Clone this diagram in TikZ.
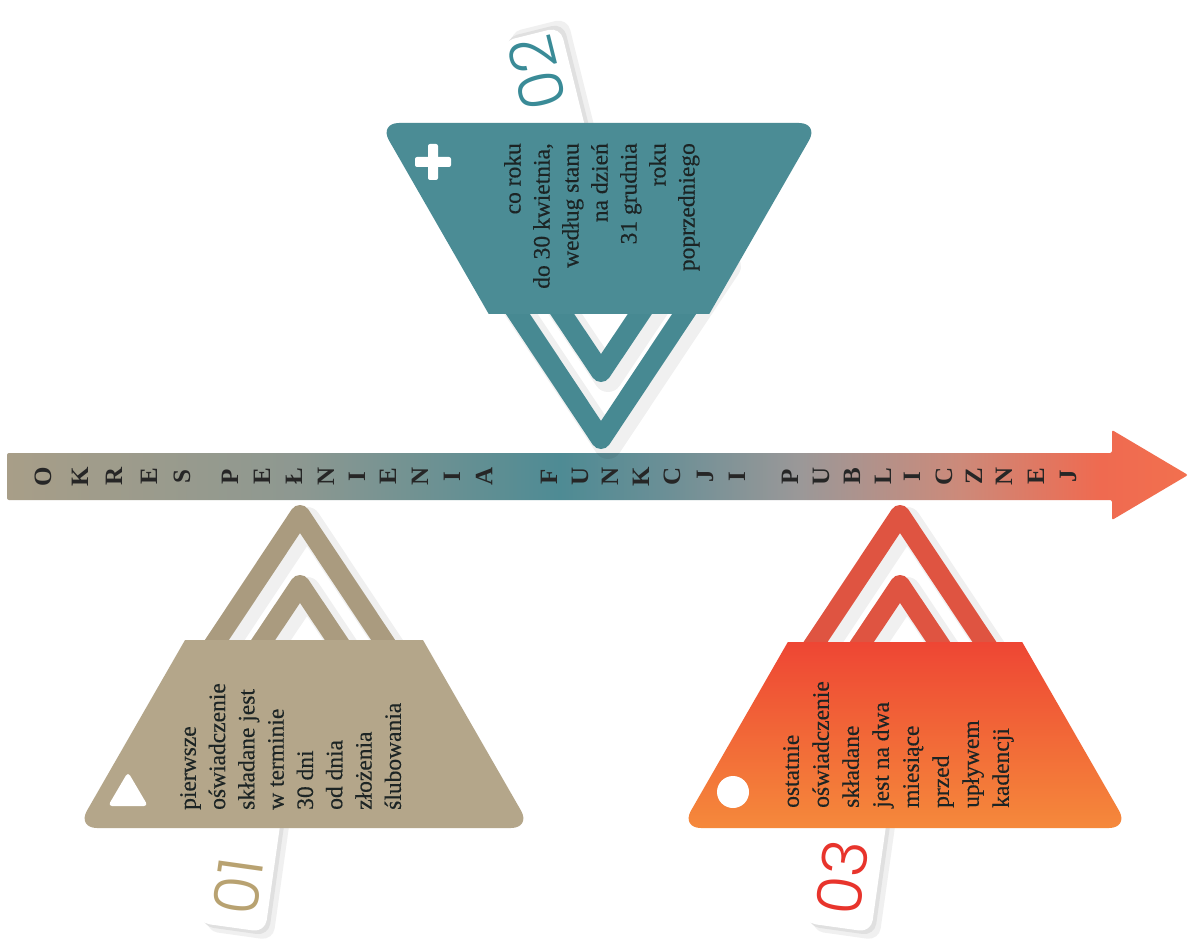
\documentclass[tikz,border=0pt]{standalone}
\usepackage{fontspec}
\setmainfont{Liberation Serif}
\IfFontExistsTF{Poppins Light}{\newfontfamily\numfont[Numbers=Proportional]{Poppins Light}}{\newfontfamily\numfont[Numbers=Proportional]{Poppins}}
\newfontfamily\cardfont[FakeBold=0.35]{Liberation Serif}
\definecolor{tanC}{HTML}{B4A68A}
\definecolor{tanD}{HTML}{AA9B7F}
\definecolor{tealC}{HTML}{4B8C95}
\definecolor{tealD}{HTML}{478992}
\definecolor{redT}{HTML}{EE4634}
\definecolor{redB}{HTML}{F5893B}
\definecolor{redD}{HTML}{DF5441}
\definecolor{txt}{HTML}{1C2424}
\definecolor{letterC}{HTML}{262626}
\definecolor{num1}{HTML}{B8A271}
\definecolor{num2}{HTML}{3A8B97}
\definecolor{num3}{HTML}{E8342C}
\definecolor{bA}{HTML}{A89E88}
\definecolor{bB}{HTML}{8D9891}
\definecolor{bC}{HTML}{4E8B94}
\definecolor{bD}{HTML}{6A8F96}
\definecolor{bE}{HTML}{9B9898}
\definecolor{bF}{HTML}{CC8A7A}
\definecolor{bG}{HTML}{EF6A50}
\definecolor{bH}{HTML}{F2704F}
\pgfdeclarehorizontalshading{barshade}{100bp}{color(0bp)=(bA); color(25bp)=(bA); color(37.4bp)=(bB); color(48.4bp)=(bC); color(52.7bp)=(bD); color(58.6bp)=(bE); color(65.3bp)=(bF); color(71.3bp)=(bG); color(75bp)=(bH); color(100bp)=(bH)}
\begin{document}
\begin{tikzpicture}[x=1pt,y=-1pt,
  cardtxt/.style={text=txt, inner sep=0pt},
  barletter/.style={text=letterC, inner sep=0pt, rotate=90, font=\bfseries\fontsize{25}{25}\selectfont},
  numtxt/.style={inner sep=0pt, font=\numfont\fontsize{62}{62}\selectfont},
  chev/.style={line width=20pt, line join=round, line cap=round},
  chevshadow/.style={line join=round, line cap=round, draw=black, opacity=0.06},
  tabshadowA/.style={fill=black!6, rounded corners=12pt},
  tabshadowB/.style={fill=black!12, rounded corners=12pt},
  tabpaper/.style={fill=white, rounded corners=12pt},
  icon/.style={fill=white}]
\fill[white] (0,0) rectangle (1191,944);
\useasboundingbox (0,0) rectangle (1191,944);

% timeline arrow
\shade[shading=barshade, rounded corners=2pt] (7,453) -- (1112,453) -- (1112,430) -- (1188,475) -- (1112,520) -- (1112,500) -- (7,500) -- cycle;
\foreach \ch/\xx [count=\i] in {O/43,K/80,R/114,E/149,S/182,P/230,E/262,Ł/294,N/326,I/357,E/388,N/420,I/452,A/484,F/549,U/580,N/610,K/641,C/672,J/705,I/737,P/790,U/821,B/852,L/883,I/912,C/944,Z/974,N/1004,E/1036,J/1068}
  \node[barletter] (L\i) at (\xx,476.5) {\ch};

% tabs
\begin{scope}[shift={(240,866)}, rotate=-8]
  \fill[tabshadowA] (-25,-103) rectangle (43,69);
  \fill[tabshadowB] (-30,-107) rectangle (38,65);
  \fill[tabpaper] (-34,-110) rectangle (34,62);
\end{scope}
\node[numtxt, text=num1, rotate=82] (n1) at (238,886) {01};

\begin{scope}[shift={(846,866)}, rotate=-8]
  \fill[tabshadowA] (-25,-103) rectangle (43,69);
  \fill[tabshadowB] (-30,-107) rectangle (38,65);
  \fill[tabpaper] (-34,-110) rectangle (34,62);
\end{scope}
\node[numtxt, text=num3, rotate=82] (n3) at (842,877) {03};

\begin{scope}[shift={(550,110)}, rotate=14]
  \fill[tabshadowA] (-21,-85) rectangle (39,113);
  \fill[tabshadowB] (-26,-81) rectangle (34,117);
  \fill[tabpaper] (-30,-78) rectangle (30,120);
\end{scope}
\node[numtxt, text=num2, rotate=104] (n2) at (537,73) {02};

% chevrons 01
\begin{scope}[shift={(7,6)}]
  \draw[chevshadow, line width=28pt] (177,700) -- (300,515) -- (423,700);
  \draw[chevshadow, line width=28pt] (223,700) -- (300,585) -- (377,700);
\end{scope}
\draw[chev, draw=tanD] (177,700) -- (300,515) -- (423,700);
\draw[chev, draw=tanD] (223,700) -- (300,585) -- (377,700);
% chevrons 03
\begin{scope}[shift={(7,6)}]
  \draw[chevshadow, line width=28pt] (777,700) -- (900,515) -- (1023,700);
  \draw[chevshadow, line width=28pt] (823,700) -- (900,585) -- (977,700);
\end{scope}
\draw[chev, draw=redD] (777,700) -- (900,515) -- (1023,700);
\draw[chev, draw=redD] (823,700) -- (900,585) -- (977,700);
% chevrons 02
\begin{scope}[shift={(7,6)}]
  \draw[chevshadow, line width=28pt] (482,260) -- (601,439) -- (720,260);
  \draw[chevshadow, line width=28pt] (526,260) -- (601,372) -- (676,260);
\end{scope}
\draw[chev, draw=tealD] (482,260) -- (601,439) -- (720,260);
\draw[chev, draw=tealD] (526,260) -- (601,372) -- (676,260);

% cards
\begin{scope}
  \clip (0,640) rectangle (1191,944);
  \fill[tanC, rounded corners=20pt] (304,433) -- (531,828) -- (77,828) -- cycle;
\end{scope}
\begin{scope}
  \clip (0,0) rectangle (1191,313);
  \fill[tealC, rounded corners=20pt] (379,123) -- (819,123) -- (599,506) -- cycle;
\end{scope}
\begin{scope}
  \clip[rounded corners=20pt] (905,438) -- (1129,828) -- (681,828) -- cycle;
  \shade[top color=redT, bottom color=redB] (600,642) rectangle (1191,828);
\end{scope}

% icons
\fill[icon, rounded corners=4pt] (128,772) -- (148,806) -- (108,806) -- cycle;
\fill[icon, rounded corners=2pt] (415,157) rectangle (451,167);
\fill[icon, rounded corners=2pt] (428,144) rectangle (438,180);
\fill[icon] (733,792) circle (16);

% card texts
\node[cardtxt, rotate=90, anchor=north west, align=left, font=\cardfont\fontsize{23.5}{29.3}\selectfont] (t1) at (180,810)
  {pierwsze\\oświadczenie\\składane jest\\w terminie\\30 dni\\od dnia\\złożenia\\ślubowania};
\node[cardtxt, rotate=90, anchor=north east, align=right, font=\cardfont\fontsize{23.5}{29}\selectfont] (t2) at (504,143)
  {co roku\\do 30 kwietnia,\\według stanu\\na dzień\\31 grudnia\\roku\\poprzedniego};
\node[cardtxt, rotate=90, anchor=north west, align=left, font=\cardfont\fontsize{23.5}{30}\selectfont] (t3) at (783,808)
  {ostatnie\\oświadczenie\\składane\\jest na dwa\\miesiące\\przed\\upływem\\kadencji};
\end{tikzpicture}
\end{document}
